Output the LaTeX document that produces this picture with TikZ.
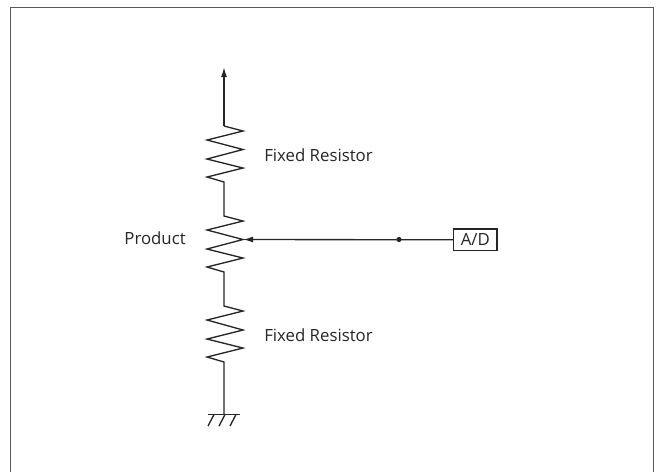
\documentclass[tikz,border=0pt]{standalone}
\usepackage{fontspec}
\setmainfont{Open Sans}
\usetikzlibrary{arrows.meta}
\tikzset{
  px/.style={x=0.75pt,y=-0.75pt},
  wire/.style={draw=black!85,line width=1pt,line join=miter},
  lbl/.style={font=\fontsize{12.6pt}{14pt}\selectfont,text=black!85,inner sep=0pt},
  tip/.style={-{Latex[length=7.5pt,width=4.4pt]}}
}
\begin{document}
\begin{tikzpicture}[px]
\useasboundingbox (0,0) rectangle (659,472);
\draw[draw=black!65,line width=1pt] (10.5,472) -- (10.5,7.5) -- (653.5,7.5) -- (653.5,472);
\coordinate (top) at (224,67);
\coordinate (gnd) at (224,414.5);
\coordinate (w) at (243,239.5);
\coordinate (dot) at (399,239.5);
\node[lbl,draw=black!85,line width=1pt,minimum width=32.5pt,minimum height=16pt] (ad) at (475.3,239.8) {A/D};
\node[lbl,anchor=west] (f1) at (264,155) {Fixed Resistor};
\node[lbl,anchor=west] (f2) at (264,335.5) {Fixed Resistor};
\node[lbl,anchor=east] (p) at (186,238.5) {Product};
\draw[wire,tip] (224,126) -- (top);
\draw[wire] (224,126) -- (243,131) -- (207,140) -- (243,149.5) -- (207,159) -- (243,168) -- (207,177) -- (224,182) -- (224,216) -- (243,221) -- (207,230) -- (243,239.5) -- (207,249) -- (243,258) -- (207,267) -- (224,272) -- (224,306) -- (243,311) -- (207,320) -- (243,330) -- (207,339) -- (243,348) -- (207,357) -- (224,362) -- (gnd);
\draw[wire,tip] (ad.west) -- (w);
\fill[black!85] (dot) circle (2.6);
\draw[wire] (208,414.5) -- (240,414.5);
\draw[wire] (214,414.5) -- (208,426) (225,414.5) -- (219,426) (236,414.5) -- (230,426);
\end{tikzpicture}
\end{document}
